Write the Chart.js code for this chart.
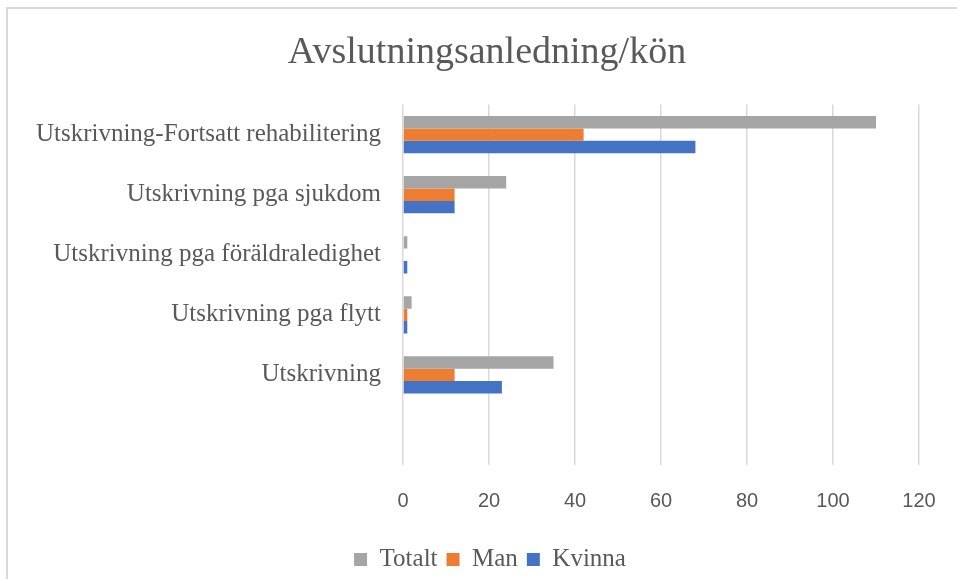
<!DOCTYPE html>
<html>
<head>
	<meta charset="utf-8">
	<title>Avslutningsanledning</title>
	<style>
		body { margin: 0; background: #fff; }
		#wrap { position: relative; width: 957px; height: 579px; }
		#frame { position: absolute; left: 6px; top: 7px; right: 0; bottom: 0; border-top: 2px solid #d9d9d9; border-left: 2px solid #d9d9d9; pointer-events: none; }
		canvas { position: absolute; left: 0; top: 0; }
	</style>
	<script src="https://cdn.jsdelivr.net/npm/chart.js"></script>
</head>
<body>
	<div id="wrap">
		<canvas id="reasonChart" width="957" height="579"></canvas>
		<div id="frame"></div>
	</div>

	<script>
		// categories top to bottom, last slot is empty in the original
		const categories = [
			'Utskrivning-Fortsatt rehabilitering',
			'Utskrivning pga sjukdom',
			'Utskrivning pga föräldraledighet',
			'Utskrivning pga flytt',
			'Utskrivning',
			''
		];
		const totalt = [110, 24, 1, 2, 35, null];
		const man = [42, 12, 0, 1, 12, null];
		const kvinna = [68, 12, 1, 1, 23, null];
		const xTicks = [0, 20, 40, 60, 80, 100, 120];

		const textColor = '#595959';
		const serif = '"Liberation Serif", serif';

		// title and legend sit a bit right of the canvas centre in the original
		const shiftBlocks = {
			id: 'shiftBlocks',
			afterLayout(chart) {
				if (chart.titleBlock) { chart.titleBlock.left += 19; chart.titleBlock.right += 19; }
				if (chart.legend) { chart.legend.left += 22; chart.legend.right += 22; }
			}
		};

		const ctx = document.getElementById('reasonChart').getContext('2d');
		new Chart(ctx, {
			type: 'bar',
			data: {
				labels: categories,
				datasets: [
					{ label: 'Totalt', data: totalt, backgroundColor: '#a5a5a5' },
					{ label: 'Man', data: man, backgroundColor: '#ed7d31' },
					{ label: 'Kvinna', data: kvinna, backgroundColor: '#4472c4' }
				]
			},
			options: {
				indexAxis: 'y',
				responsive: false,
				animation: false,
				categoryPercentage: 0.62,
				barPercentage: 1,
				layout: { padding: { left: 17, right: 38, top: 0, bottom: -3 } },
				plugins: {
					title: {
						display: true,
						text: 'Avslutningsanledning/kön',
						color: textColor,
						font: { family: serif, size: 38, weight: 'normal', lineHeight: 1.2 },
						padding: { top: 30, bottom: 29 }
					},
					legend: {
						position: 'bottom',
						labels: {
							color: textColor,
							boxWidth: 13,
							boxHeight: 13,
							padding: 9,
							font: { family: serif, size: 25 }
						}
					},
					tooltip: { enabled: false }
				},
				scales: {
					x: {
						min: 0,
						max: 120,
						afterBuildTicks: s => { s.ticks = xTicks.map(v => ({ value: v })); },
						afterFit: s => { s.height = 73; s.paddingLeft = 0; s.paddingRight = 0; },
						grid: { color: '#d9d9d9', lineWidth: 1.5, drawTicks: false },
						border: { display: false },
						ticks: { color: textColor, padding: 24, font: { family: '"Liberation Sans", sans-serif', size: 20 } }
					},
					y: {
						afterFit: s => { s.width = 386; },
						grid: { display: false },
						border: { display: false },
						ticks: { color: textColor, padding: 14, font: { family: serif, size: 25 } }
					}
				}
			},
			plugins: [shiftBlocks]
		});
	</script>
</body>
</html>
